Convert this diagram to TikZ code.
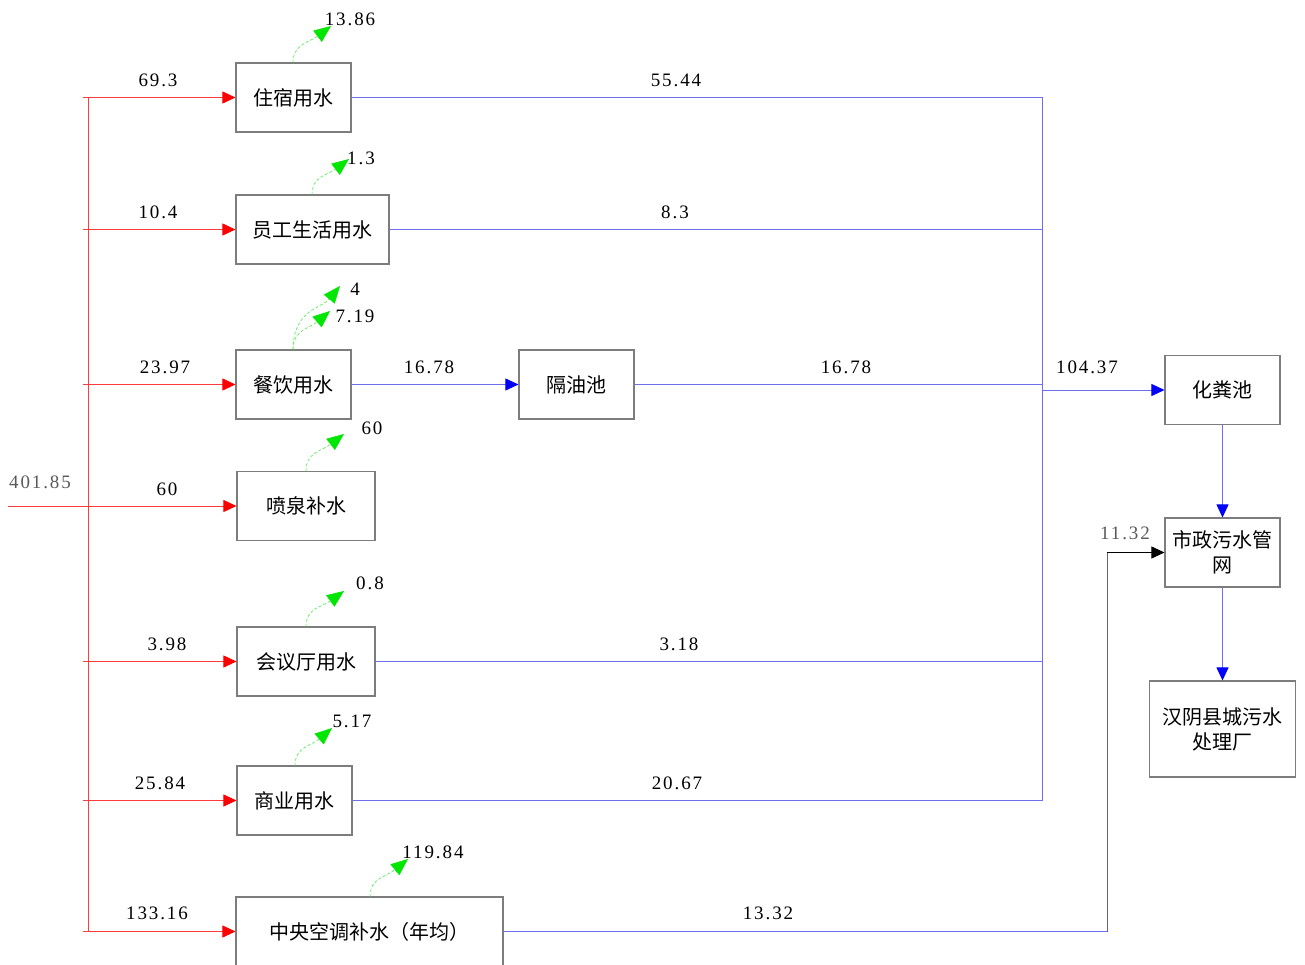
\documentclass[tikz,border=0pt]{standalone}
\usepackage{fontspec}
\setmainfont{Liberation Serif}
\newfontfamily\numfont[LetterSpace=10]{Liberation Serif}
\newfontfamily\cjk{Noto Sans CJK SC}
\usetikzlibrary{arrows.meta}
\definecolor{lred}{RGB}{255,60,60}
\definecolor{lblue}{RGB}{110,110,240}
\definecolor{boxgray}{RGB}{125,125,125}
\definecolor{lgreen}{RGB}{0,230,0}
\tikzset{
  box/.style={draw=boxgray,line width=1.1pt,minimum height=69pt,inner sep=0pt,align=center,font=\cjk\fontsize{20}{25}\selectfont},
  num/.style={font=\numfont\fontsize{19}{20}\selectfont,inner sep=0pt},
  gnum/.style={num,text=black!65},
  redline/.style={draw=lred,line width=0.8pt},
  redarr/.style={redline,-{Triangle[length=13pt,width=12pt,fill=red,color=red]}},
  blueline/.style={draw=lblue,line width=0.8pt},
  bluearr/.style={blueline,-{Triangle[length=13pt,width=12pt,fill=blue,color=blue]}},
  evap/.style={draw=lgreen!70,dashed,dash pattern=on 3pt off 2pt,line width=0.6pt,-{Triangle[length=17pt,width=14pt,fill=lgreen,color=lgreen]}}
}
\begin{document}
\begin{tikzpicture}[x=1pt,y=-1pt]
\useasboundingbox (0,0) rectangle (1305,965);
% boxes
\node[box,minimum width=115pt] (zs) at (293.5,97.5) {住宿用水};
\node[box,minimum width=153pt] (yg) at (312.5,229.5) {员工生活用水};
\node[box,minimum width=115pt] (cy) at (293.5,384.5) {餐饮用水};
\node[box,minimum width=115pt] (gy) at (576.5,384.5) {隔油池};
\node[box,minimum width=138pt] (pq) at (306,506) {喷泉补水};
\node[box,minimum width=138pt] (hy) at (306,661.5) {会议厅用水};
\node[box,minimum width=115pt] (sy) at (294.5,800.5) {商业用水};
\node[box,minimum width=267pt] (ac) at (369.5,931.5) {中央空调补水（年均）};
\node[box,minimum width=115pt] (hf) at (1222.5,390) {化粪池};
\node[box,minimum width=115pt] (sz) at (1222.5,552.5) {市政污水管\\网};
\node[box,minimum width=146pt,minimum height=96pt] (hyc) at (1222.5,729) {汉阴县城污水\\处理厂};
% coordinates
\coordinate (src) at (8,506);
\coordinate (ttop) at (88,97.5);
\coordinate (tbot) at (88,931.5);
\coordinate (c1) at (83,97.5);
\coordinate (c2) at (83,229.5);
\coordinate (c3) at (83,384.5);
\coordinate (c5) at (83,661.5);
\coordinate (c6) at (83,800.5);
\coordinate (c7) at (83,931.5);
\coordinate (btop) at (1042,97.5);
\coordinate (bbot) at (1042,800.5);
\coordinate (bj) at (1042,390);
\coordinate (acr) at (1107,931.5);
\coordinate (acu) at (1107,552.5);
% red supply lines
\draw[redline] (ttop) -- (tbot);
\draw[redarr] (c1) -- (zs.west);
\draw[redarr] (c2) -- (yg.west);
\draw[redarr] (c3) -- (cy.west);
\draw[redarr] (src) -- (pq.west);
\draw[redarr] (c5) -- (hy.west);
\draw[redarr] (c6) -- (sy.west);
\draw[redarr] (c7) -- (ac.west);
% blue drains
\draw[blueline] (btop) -- (bbot);
\draw[blueline] (zs.east) -- (zs.east -| btop);
\draw[blueline] (yg.east) -- (yg.east -| btop);
\draw[bluearr] (cy.east) -- (gy.west);
\draw[blueline] (gy.east) -- (gy.east -| btop);
\draw[blueline] (hy.east) -- (hy.east -| btop);
\draw[blueline] (sy.east) -- (sy.east -| btop);
\draw[bluearr] (bj) -- (hf.west);
\draw[bluearr] (hf.south) -- (sz.north);
\draw[bluearr] (sz.south) -- (hyc.north);
\draw[blueline] (ac.east) -- (acr);
\draw[draw=black!60,line width=0.8pt] (acr) -- (acu);
\draw[draw=black,line width=0.8pt,-{Triangle[length=13pt,width=12pt]}] (acu) -- (sz.west);
% evaporation arrows
\coordinate (e1) at (331,26);
\coordinate (e2) at (349,159);
\coordinate (e3a) at (340,286);
\coordinate (e3b) at (330,311);
\coordinate (e4) at (344,434);
\coordinate (e5) at (344,591);
\coordinate (e6) at (332,728);
\coordinate (e7) at (408,859);
\draw[evap] (293,62.5) .. controls (293,44) and (310,42) .. (e1);
\draw[evap] (312,194.5) .. controls (312,176) and (328,175) .. (e2);
\draw[evap] (293,349.5) .. controls (293,310) and (322,308) .. (e3a);
\draw[evap] (293,349.5) .. controls (293,330) and (310,328) .. (e3b);
\draw[evap] (306,471) .. controls (306,452) and (322,451) .. (e4);
\draw[evap] (306,626.5) .. controls (306,608) and (322,607) .. (e5);
\draw[evap] (295,765.5) .. controls (295,747) and (311,746) .. (e6);
\draw[evap] (370,896.5) .. controls (370,878) and (386,877) .. (e7);
% labels
\node[num] (l1) at (158,80) {69.3};
\node[num] (l2) at (676,80) {55.44};
\node[num] (l3) at (158,212) {10.4};
\node[num] (l4) at (675,212) {8.3};
\node[num] (l5) at (165,367) {23.97};
\node[num] (l6) at (429,367) {16.78};
\node[num] (l7) at (846,367) {16.78};
\node[num] (l8) at (167,489) {60};
\node[num] (l9) at (167,644) {3.98};
\node[num] (l10) at (679,644) {3.18};
\node[num] (l11) at (160,783) {25.84};
\node[num] (l12) at (677,783) {20.67};
\node[num] (l13) at (157,913) {133.16};
\node[num] (l14) at (768,913) {13.32};
\node[num] (l15) at (1087,367) {104.37};
\node[gnum] (l16) at (40,482) {401.85};
\node[gnum] (l17) at (1125,533) {11.32};
\node[num] (g1) at (350,19) {13.86};
\node[num] (g2) at (361,158) {1.3};
\node[num] (g3a) at (355,289) {4};
\node[num] (g3b) at (355,316) {7.19};
\node[num] (g4) at (372,428) {60};
\node[num] (g5) at (370,583) {0.8};
\node[num] (g6) at (352,721) {5.17};
\node[num] (g7) at (433,852) {119.84};
\end{tikzpicture}
\end{document}
